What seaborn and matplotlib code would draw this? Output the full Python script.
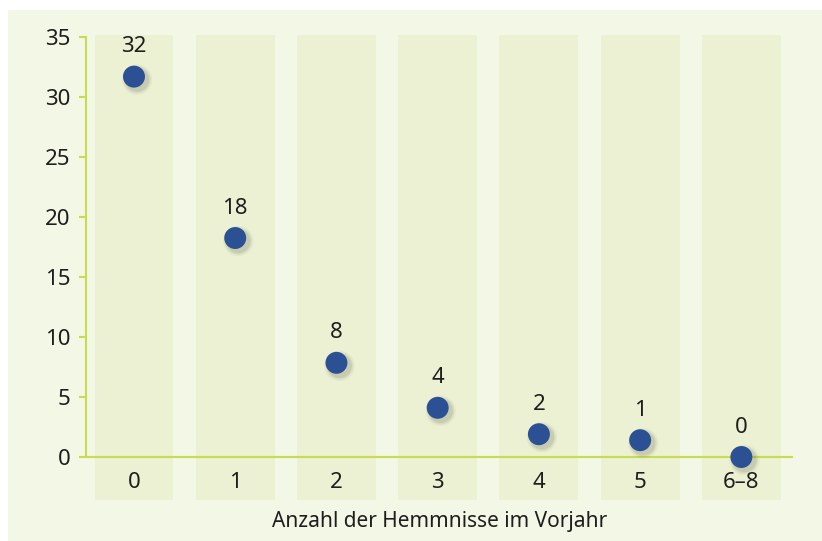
import matplotlib
matplotlib.use("Agg")
import matplotlib.pyplot as plt
import matplotlib.transforms as mtransforms
from matplotlib.patches import Rectangle
import pandas as pd
import seaborn as sns

# data
categories = ["0", "1", "2", "3", "4", "5", "6–8"]
values = [31.7, 18.25, 7.85, 4.1, 1.9, 1.4, 0.0]
labels = ["32", "18", "8", "4", "2", "1", "0"]
yticks = [0, 5, 10, 15, 20, 25, 30, 35]

df = pd.DataFrame({"pos": range(len(categories)), "value": values})

sns.set_style("white")
plt.rcParams["font.family"] = ["Noto Sans", "DejaVu Sans"]

bg = "#f3f7e6"
band = "#ebf1d2"
axis_col = "#c8dc4e"
dot = "#2b5094"
txt = "#1e1e1e"

fig = plt.figure(figsize=(8.22, 5.41), dpi=100, facecolor="white")
fig.patches.append(Rectangle((8 / 822, 0), 1, 1 - 10 / 541, transform=fig.transFigure,
                             facecolor=bg, edgecolor="none", zorder=-10))
ax = fig.add_axes([86 / 822, 0.0754, (792 - 86) / 822, 0.936 - 0.0754])
ax.set_facecolor("none")

ax.set_xlim(-0.474, 6.5)
ax.set_ylim(-3.6, 35.2)

# column bands
for i in range(len(categories)):
    ax.add_patch(Rectangle((i - 0.39, -3.6), 0.78, 38.75, facecolor=band,
                           edgecolor="none", zorder=0, clip_on=False))

# soft shadow of the dots
shadow = mtransforms.offset_copy(ax.transData, fig=fig, x=3, y=-3, units="dots")
for s, a in [(480, 0.05), (390, 0.08), (310, 0.12)]:
    ax.scatter(df["pos"], df["value"], s=s, color="#555544", alpha=a,
               edgecolor="none", transform=shadow, zorder=2, clip_on=False)
sns.scatterplot(data=df, x="pos", y="value", ax=ax, s=250, color=dot,
                edgecolor="none", zorder=3, legend=False, clip_on=False)

for i, (v, lab) in enumerate(zip(values, labels)):
    ax.annotate(lab, (i, v), xytext=(0, 21.5), textcoords="offset points",
                ha="center", va="center", fontsize=16, color=txt, zorder=4)

for s in ["top", "right"]:
    ax.spines[s].set_visible(False)
ax.spines["left"].set_color(axis_col)
ax.spines["left"].set_linewidth(1.5)
ax.spines["left"].set_bounds(0, 35)
ax.spines["bottom"].set_color(axis_col)
ax.spines["bottom"].set_linewidth(1.5)
ax.spines["bottom"].set_position(("data", 0))
ax.spines["bottom"].set_zorder(1)

ax.set_yticks(yticks)
ax.set_yticklabels([str(t) for t in yticks])
ax.set_xticks(range(len(categories)))
ax.set_xticklabels(categories)
ax.tick_params(axis="y", length=5, width=1.5, color=axis_col, labelsize=16,
               labelcolor=txt, pad=6, left=True)
ax.tick_params(axis="x", length=0, labelsize=16, labelcolor=txt, pad=11)
ax.set_xlabel("")
ax.set_ylabel("")

fig.text(440 / 822, 1 - 521 / 541, "Anzahl der Hemmnisse im Vorjahr",
         ha="center", va="center", fontsize=15, color=txt)

fig.savefig("out.png", dpi=100, facecolor=fig.get_facecolor())
